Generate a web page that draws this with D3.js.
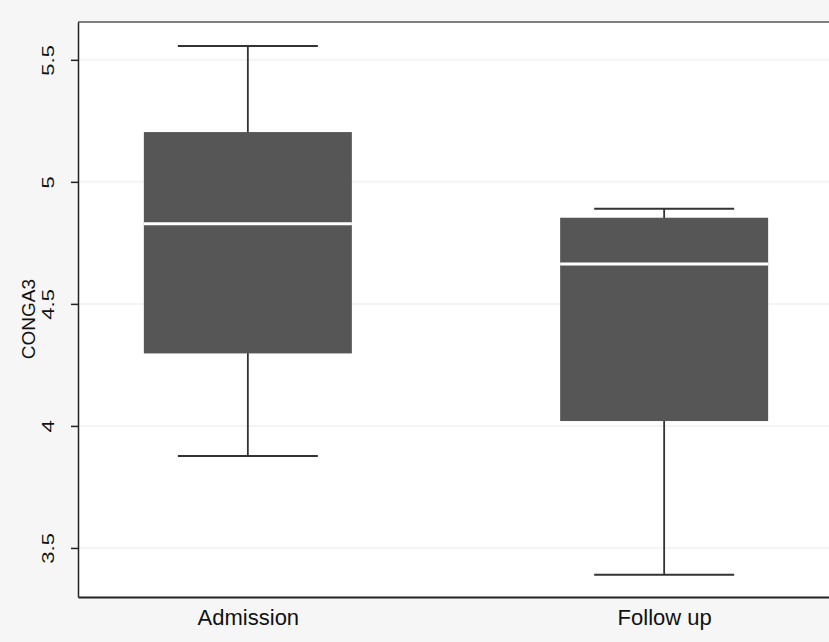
<!DOCTYPE html>
<html>
<head>
<meta charset="UTF-8">
<script src="https://d3js.org/d3.v7.min.js"></script>
<style>
  body { margin: 0; background: #f6f6f6; font-family: "Liberation Sans", Arial, sans-serif; }
  svg { display: block; }
</style>
</head>
<body>
<svg width="829" height="642"></svg>
<script>
// box plot data
const groups = ["Admission", "Follow up"];
const whiskerLow = [3.877, 3.39];
const q1 = [4.297, 4.02];
const median = [4.828, 4.663];
const q3 = [5.204, 4.853];
const whiskerHigh = [5.557, 4.89];
const yTicks = [3.5, 4, 4.5, 5, 5.5];

const data = groups.map((g, i) => ({
  group: g, lo: whiskerLow[i], q1: q1[i], med: median[i], q3: q3[i], hi: whiskerHigh[i]
}));

const margin = { top: 22, right: -5, bottom: 45, left: 78 };
const W = 829, H = 642;
const svg = d3.select("svg");

const x = d3.scalePoint()
  .domain(groups)
  .range([margin.left, W - margin.right])
  .padding(0.408);

const y = d3.scaleLinear()
  .domain([3.299, 5.655])
  .range([H - margin.bottom, margin.top]);

// plot area
svg.append("rect")
  .attr("x", margin.left).attr("y", margin.top)
  .attr("width", W - margin.right - margin.left)
  .attr("height", y.range()[0] - margin.top)
  .attr("fill", "#fff");

// faint grid
svg.append("g").selectAll("line")
  .data(yTicks)
  .join("line")
  .attr("x1", margin.left).attr("x2", W)
  .attr("y1", d => y(d)).attr("y2", d => y(d))
  .attr("stroke", "#f4f4f4").attr("stroke-width", 2);

const boxW = 208, capW = 140;
const g = svg.append("g").selectAll("g").data(data).join("g");

g.append("line")
  .attr("x1", d => x(d.group)).attr("x2", d => x(d.group))
  .attr("y1", d => y(d.lo)).attr("y2", d => y(d.hi))
  .attr("stroke", "#333").attr("stroke-width", 1.8);
g.append("line")
  .attr("x1", d => x(d.group) - capW / 2).attr("x2", d => x(d.group) + capW / 2)
  .attr("y1", d => y(d.hi)).attr("y2", d => y(d.hi))
  .attr("stroke", "#333").attr("stroke-width", 2);
g.append("line")
  .attr("x1", d => x(d.group) - capW / 2).attr("x2", d => x(d.group) + capW / 2)
  .attr("y1", d => y(d.lo)).attr("y2", d => y(d.lo))
  .attr("stroke", "#333").attr("stroke-width", 2);
g.append("rect")
  .attr("x", d => x(d.group) - boxW / 2)
  .attr("y", d => y(d.q3))
  .attr("width", boxW)
  .attr("height", d => y(d.q1) - y(d.q3))
  .attr("fill", "#565656");
g.append("line")
  .attr("x1", d => x(d.group) - boxW / 2).attr("x2", d => x(d.group) + boxW / 2)
  .attr("y1", d => y(d.med)).attr("y2", d => y(d.med))
  .attr("stroke", "#fff").attr("stroke-width", 3);

// frame: top line, left and bottom axes
svg.append("line")
  .attr("x1", margin.left).attr("x2", W)
  .attr("y1", margin.top).attr("y2", margin.top)
  .attr("stroke", "#555").attr("stroke-width", 1.5);

const yAxis = svg.append("g")
  .attr("transform", `translate(${margin.left},0)`)
  .call(d3.axisLeft(y).tickValues(yTicks).tickFormat(d3.format("")).tickSize(7).tickSizeOuter(0));
yAxis.select(".domain").attr("stroke", "#222").attr("stroke-width", 1.5);
yAxis.selectAll(".tick line").attr("stroke", "#222").attr("stroke-width", 1.5);
yAxis.selectAll(".tick text")
  .attr("font-size", 17).attr("font-family", "Liberation Sans, Arial, sans-serif")
  .attr("fill", "#111")
  .attr("transform", "rotate(-90) scale(1.3,1)")
  .attr("x", 0).attr("y", -24)
  .attr("dy", 0)
  .attr("text-anchor", "middle");

const xAxis = svg.append("g")
  .attr("transform", `translate(0,${y.range()[0]})`)
  .call(d3.axisBottom(x).tickSize(0).tickSizeOuter(0));
xAxis.select(".domain").attr("stroke", "#222").attr("stroke-width", 2);
xAxis.selectAll(".tick text")
  .attr("font-size", 22).attr("font-family", "Liberation Sans, Arial, sans-serif")
  .attr("fill", "#111")
  .attr("dy", 0).attr("y", 28);

svg.append("text")
  .attr("transform", `translate(35,319) rotate(-90)`)
  .attr("text-anchor", "middle")
  .attr("font-size", 19)
  .attr("fill", "#111")
  .text("CONGA3");
</script>
</body>
</html>
